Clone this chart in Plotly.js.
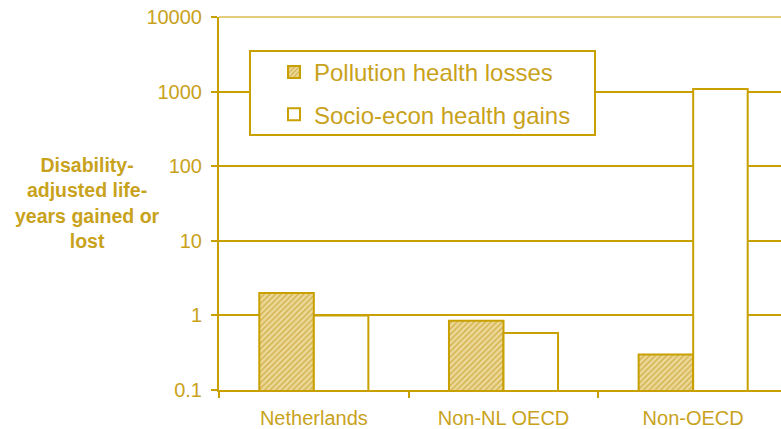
<!DOCTYPE html>
<html>
<head>
<meta charset="utf-8">
<script src="https://cdn.plot.ly/plotly-3.0.1.min.js"></script>
<style>
  html, body { margin: 0; padding: 0; overflow: hidden; background: #fff; }
  #chart { width: 800px; height: 429px; }
</style>
</head>
<body>
<div id="chart"></div>
<script>
// ---- data ----
const regions = ["Netherlands", "Non-NL OECD", "Non-OECD"];
const pollutionLosses = [2.0, 0.85, 0.30];
const socioEconGains = [1.0, 0.58, 1080];
const seriesNames = ["Pollution health losses", "Socio-econ health gains"];
const yTickValues = [0.1, 1, 10, 100, 1000, 10000];
const yTickLabels = ["0.1", "1", "10", "100", "1000", "10000"];
const yTitleLines = ["Disability-", "adjusted life-", "years gained or", "lost"];

// ---- style ----
const GOLD = "#c8a000";
const TEXT = "#c9a21c";
const FONT = "Liberation Sans, Arial, sans-serif";

const W = 800, H = 429;
const M = { l: 219, r: 12, t: 17, b: 39 };

const traces = [
  {
    type: "bar",
    name: seriesNames[0],
    x: regions,
    y: pollutionLosses,
    legendgroup: "a",
    marker: {
      color: "#ecd898",
      line: { color: GOLD, width: 2 },
      pattern: { shape: "/", fgcolor: "#d2b04a", bgcolor: "#ecd898", size: 4, solidity: 0.35 }
    },
    hoverinfo: "x+y"
  },
  {
    type: "bar",
    name: seriesNames[1],
    x: regions,
    y: socioEconGains,
    legendgroup: "b",
    marker: { color: "#ffffff", line: { color: GOLD, width: 2 } },
    hoverinfo: "x+y"
  }
];

// legend box in pixel space, converted to paper coords
const pw = W - M.l - M.r, ph = H - M.t - M.b;
const px = v => (v - M.l) / pw;
const py = v => 1 - (v - M.t) / ph;

const layout = {
  width: W,
  height: H,
  margin: M,
  paper_bgcolor: "#ffffff",
  plot_bgcolor: "#ffffff",
  font: { family: FONT, color: TEXT, size: 19 },
  barmode: "group",
  bargap: 0.425,
  bargroupgap: 0,
  showlegend: true,
  legend: {
    x: px(274), xanchor: "left",
    y: py(50), yanchor: "top",
    bgcolor: "rgba(0,0,0,0)",
    borderwidth: 0,
    font: { family: FONT, size: 24, color: TEXT },
    traceorder: "grouped",
    tracegroupgap: 8
  },
  xaxis: {
    type: "category",
    showline: true,
    linecolor: GOLD,
    linewidth: 2,
    showgrid: false,
    ticks: "outside",
    tickson: "boundaries",
    ticklen: 6,
    tickwidth: 2,
    tickcolor: GOLD,
    ticklabelstandoff: 9,
    tickfont: { family: FONT, size: 20, color: TEXT },
    fixedrange: true
  },
  yaxis: {
    type: "log",
    range: [-1, 4],
    tickvals: yTickValues,
    ticktext: yTickLabels,
    showline: true,
    linecolor: GOLD,
    linewidth: 2,
    showgrid: true,
    gridcolor: GOLD,
    gridwidth: 2,
    zeroline: false,
    ticks: "outside",
    ticklen: 6,
    tickwidth: 2,
    tickcolor: GOLD,
    ticklabelstandoff: 5,
    tickfont: { family: FONT, size: 20, color: TEXT },
    fixedrange: true
  },
  shapes: [
    {
      type: "line", xref: "paper", yref: "paper",
      x0: 0, x1: 1, y0: 1, y1: 1,
      line: { color: "#e3cc7a", width: 2 },
      layer: "below"
    },
    {
      type: "rect", xref: "paper", yref: "paper",
      x0: px(250), x1: px(595), y0: py(135), y1: py(51),
      line: { color: GOLD, width: 2 },
      fillcolor: "#ffffff",
      layer: "above"
    }
  ],
  annotations: [
    {
      xref: "paper", yref: "paper",
      x: px(87), y: py(203),
      xanchor: "center", yanchor: "middle",
      showarrow: false,
      align: "center",
      text: "<b>" + yTitleLines.join("<br>") + "</b>",
      font: { family: FONT, size: 19.5, color: TEXT }
    }
  ]
};

Plotly.newPlot("chart", traces, layout, { displayModeBar: false, staticPlot: true });
</script>
</body>
</html>
